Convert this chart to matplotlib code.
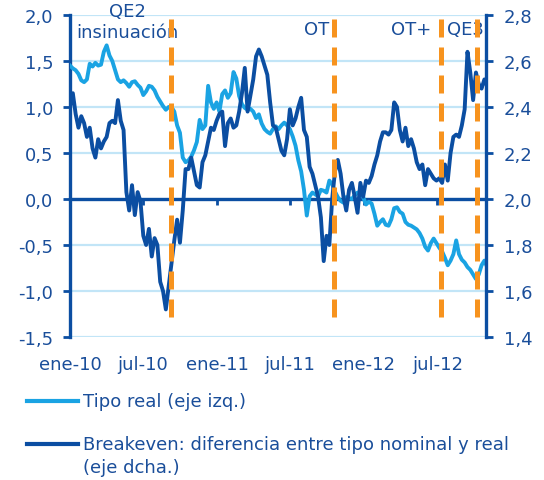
import matplotlib
matplotlib.use('Agg')
import matplotlib.pyplot as plt
from matplotlib.lines import Line2D
from matplotlib.ticker import FuncFormatter, FixedLocator
import pandas as pd

# ---------------- data (weekly) ----------------
start_date = '2010-01-01'
x_end = '2012-10-30'

tipo_real = [
    1.45, 1.42, 1.40, 1.36, 1.29, 1.27, 1.30, 1.47, 1.44, 1.48,
    1.45, 1.46, 1.60, 1.67, 1.56, 1.50, 1.40, 1.30, 1.27, 1.29,
    1.26, 1.22, 1.27, 1.28, 1.24, 1.21, 1.13, 1.17, 1.23, 1.22,
    1.18, 1.11, 1.06, 1.01, 0.97, 1.00, 1.00, 0.95, 0.80, 0.72,
    0.45, 0.40, 0.42, 0.46, 0.53, 0.62, 0.86, 0.76, 0.80, 1.23,
    1.05, 0.98, 1.05, 0.95, 1.14, 1.18, 1.10, 1.15, 1.38, 1.31,
    1.12, 1.03, 0.99, 0.97, 0.98, 0.95, 0.88, 0.92, 0.82, 0.76,
    0.73, 0.71, 0.76, 0.79, 0.76, 0.80, 0.83, 0.80, 0.76, 0.68,
    0.58, 0.42, 0.30, 0.10, -0.18, 0.03, 0.07, 0.05, 0.03, 0.10,
    0.09, 0.07, 0.20, 0.16, 0.08, 0.02, -0.02, -0.04, 0.02, 0.01,
    0.00, 0.04, 0.07, 0.05, 0.02, -0.06, -0.03, -0.05, -0.16, -0.29,
    -0.25, -0.22, -0.28, -0.29, -0.22, -0.10, -0.09, -0.14, -0.16, -0.25,
    -0.28, -0.29, -0.31, -0.33, -0.37, -0.43, -0.52, -0.56, -0.48, -0.43,
    -0.48, -0.53, -0.57, -0.64, -0.72, -0.67, -0.60, -0.45, -0.60, -0.66,
    -0.69, -0.74, -0.77, -0.82, -0.87, -0.82, -0.72, -0.67, -0.74,
]

breakeven = [
    2.40, 2.46, 2.37, 2.31, 2.36, 2.33, 2.27, 2.31, 2.22, 2.18,
    2.26, 2.22, 2.25, 2.27, 2.33, 2.34, 2.33, 2.43, 2.34, 2.30,
    2.03, 1.95, 2.06, 1.93, 2.03, 1.99, 1.84, 1.80, 1.87, 1.75,
    1.83, 1.80, 1.64, 1.60, 1.52, 1.62, 1.72, 1.82, 1.91, 1.81,
    1.95, 2.13, 2.13, 2.18, 2.12, 2.06, 2.05, 2.16, 2.19, 2.25,
    2.31, 2.30, 2.34, 2.37, 2.38, 2.23, 2.33, 2.35, 2.31, 2.32,
    2.38, 2.46, 2.57, 2.38, 2.45, 2.52, 2.62, 2.65, 2.62, 2.58,
    2.54, 2.42, 2.32, 2.31, 2.26, 2.21, 2.19, 2.26, 2.39, 2.32,
    2.35, 2.40, 2.44, 2.30, 2.27, 2.14, 2.11, 2.06, 2.01, 1.92,
    1.73, 1.84, 1.80, 2.00, 2.12, 2.17, 2.11, 2.01, 1.95, 2.04,
    2.07, 2.01, 1.94, 2.07, 2.01, 2.08, 2.07, 2.10, 2.15, 2.19,
    2.25, 2.29, 2.29, 2.28, 2.30, 2.42, 2.40, 2.30, 2.25, 2.31,
    2.23, 2.26, 2.22, 2.16, 2.13, 2.15, 2.06, 2.13, 2.11, 2.09,
    2.08, 2.09, 2.07, 2.15, 2.08, 2.20, 2.27, 2.28, 2.27, 2.32,
    2.39, 2.64, 2.55, 2.43, 2.55, 2.50, 2.48, 2.52, 2.49,
]

event_dates = ['2010-09-08', '2011-10-18', '2012-07-10', '2012-10-07']
event_labels = ['QE2\ninsinuación', 'OT', 'OT+', 'QE3']

xtick_dates = ['2010-01-01', '2010-07-01', '2011-01-01',
               '2011-07-01', '2012-01-01', '2012-07-01']
xtick_labels = ['ene-10', 'jul-10', 'ene-11', 'jul-11', 'ene-12', 'jul-12']
left_ticks = [-1.5, -1.0, -0.5, 0.0, 0.5, 1.0, 1.5, 2.0]
right_ticks = [1.4, 1.6, 1.8, 2.0, 2.2, 2.4, 2.6, 2.8]

legend_labels = ['Tipo real (eje izq.)',
                 'Breakeven: diferencia entre tipo nominal y real\n(eje dcha.)']

# ---------------- style ----------------
DARK = '#0B4EA2'
LIGHT = '#1AA3E3'
ORANGE = '#F7931E'
GRID = '#C2E5F7'
TEXT = '#1A4E9A'
FS = 13

plt.rcParams['font.family'] = ['DejaVu Sans']

W, H = 544, 481
fig = plt.figure(figsize=(W / 100, H / 100), dpi=100)
ax = fig.add_axes([70 / W, 1 - 338 / H, 416 / W, 322 / H])

dates = pd.date_range(start_date, periods=len(tipo_real), freq='7D')

ax.plot(dates, tipo_real, color=LIGHT, lw=2.8, zorder=3, solid_joinstyle='round')
ax.set_ylim(-1.5, 2.0)
ax.set_xlim(pd.Timestamp(start_date), pd.Timestamp(x_end))

ax2 = ax.twinx()
ax2.plot(pd.date_range(start_date, periods=len(breakeven), freq='7D'), breakeven,
         color=DARK, lw=2.8, zorder=3, solid_joinstyle='round')
ax2.set_ylim(1.4, 2.8)
ax2.set_xlim(pd.Timestamp(start_date), pd.Timestamp(x_end))

# event lines (top of stack)
xt = ax2.get_xaxis_transform()
for d in event_dates:
    ax2.plot([pd.Timestamp(d)] * 2, [0.988, 0.034], transform=xt, color=ORANGE,
             lw=3.6, dashes=(3.6, 2.0), solid_capstyle='butt',
             dash_capstyle='butt', zorder=5, clip_on=False)

# event labels
label_pos = [(0.139, 0.980), (0.594, 0.957), (0.820, 0.957), (0.950, 0.957)]
for lab, (px, py) in zip(event_labels, label_pos):
    ax.text(px, py, lab, transform=ax.transAxes, ha='center', va='center',
            fontsize=FS, color=TEXT, linespacing=1.2, zorder=6)

# grid
ax.yaxis.set_major_locator(FixedLocator(left_ticks))
ax.yaxis.grid(True, color=GRID, lw=1.6)
ax.set_axisbelow(True)

fmt = FuncFormatter(lambda v, p: f'{v:.1f}'.replace('.', ','))
ax.yaxis.set_major_formatter(fmt)
ax2.yaxis.set_major_locator(FixedLocator(right_ticks))
ax2.yaxis.set_major_formatter(fmt)

# spines
for s in ['top', 'right']:
    ax.spines[s].set_visible(False)
for s in ['top', 'left', 'bottom']:
    ax2.spines[s].set_visible(False)
ax.spines['left'].set_color(DARK)
ax.spines['left'].set_linewidth(2.4)
ax.spines['bottom'].set_position(('data', 0))
ax.spines['bottom'].set_color(DARK)
ax.spines['bottom'].set_linewidth(2.4)
ax2.spines['right'].set_color(DARK)
ax2.spines['right'].set_linewidth(2.4)

ax.set_xticks([pd.Timestamp(d) for d in xtick_dates])
ax.set_xticklabels(xtick_labels)
ax.tick_params(axis='x', direction='out', length=4.5, width=2, color=DARK,
               labelsize=FS, labelcolor=TEXT, pad=108)
ax.tick_params(axis='y', direction='out', length=5, width=2, color=DARK,
               labelsize=FS, labelcolor=TEXT, pad=7)
ax2.tick_params(axis='y', direction='out', length=5, width=2, color=DARK,
                labelsize=FS, labelcolor=TEXT, pad=8)
ax2.tick_params(axis='x', bottom=False, labelbottom=False)

# legend (drawn manually)
fig.add_artist(Line2D([27 / W, 78 / W], [1 - 402 / H] * 2, color=LIGHT, lw=3))
fig.text(83 / W, 1 - 402 / H, legend_labels[0], va='center', ha='left',
         fontsize=FS, color=TEXT)
fig.add_artist(Line2D([27 / W, 78 / W], [1 - 445 / H] * 2, color=DARK, lw=3))
fig.text(83 / W, 1 - 456.5 / H, legend_labels[1], va='center', ha='left',
         fontsize=FS, color=TEXT, linespacing=1.3)

fig.savefig('out.png', dpi=100)
